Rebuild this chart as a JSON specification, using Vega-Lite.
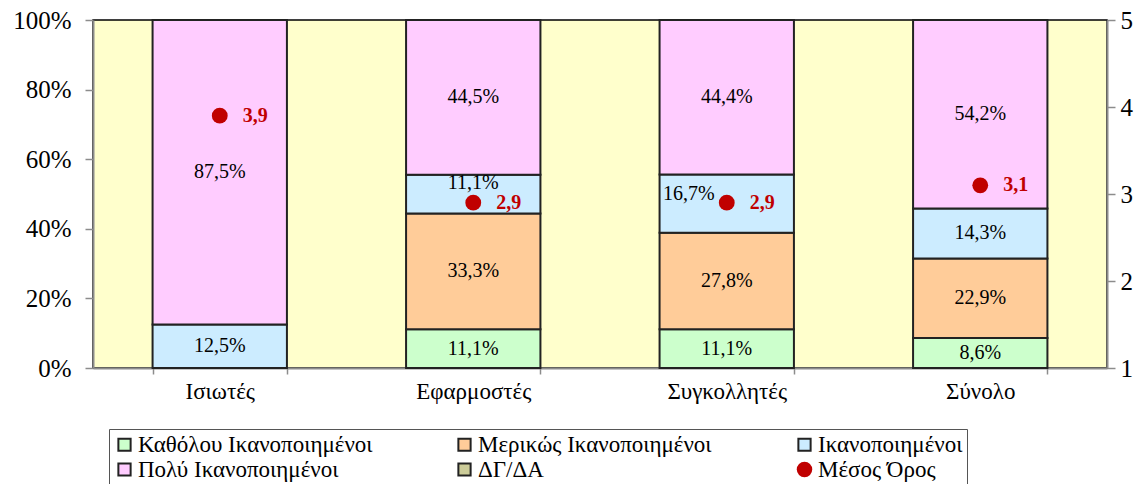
{
  "$schema": "https://vega.github.io/schema/vega-lite/v6.json",
  "width": 1014,
  "height": 348,
  "autosize": {"type": "none"},
  "padding": {"left": 93, "top": 20, "right": 37, "bottom": 116},
  "background": "white",
  "config": {
    "locale": {"number": {"decimal": ",", "thousands": ".", "grouping": [3], "currency": ["", " €"]}},
    "font": "Liberation Serif",
    "text": {"font": "Liberation Serif"},
    "view": {"fill": "#FFFFCC", "stroke": "#000000", "strokeWidth": 1.5},
    "axis": {"labelFont": "Liberation Serif", "labelColor": "#000000", "domainColor": "#8c8c8c", "domainWidth": 2, "tickColor": "#8c8c8c", "tickWidth": 1.5, "grid": false, "title": null},
    "legend": {"labelFont": "Liberation Serif"}
  },
  "datasets": {
    "shares": [
      {"cat": "Ισιωτές", "series": "Καθόλου Ικανοποιημένοι", "k": 1, "p": 0},
      {"cat": "Ισιωτές", "series": "Μερικώς Ικανοποιημένοι", "k": 2, "p": 0},
      {"cat": "Ισιωτές", "series": "Ικανοποιημένοι", "k": 3, "p": 0.125},
      {"cat": "Ισιωτές", "series": "Πολύ Ικανοποιημένοι", "k": 4, "p": 0.875},
      {"cat": "Ισιωτές", "series": "ΔΓ/ΔΑ", "k": 5, "p": 0},
      {"cat": "Εφαρμοστές", "series": "Καθόλου Ικανοποιημένοι", "k": 1, "p": 0.111},
      {"cat": "Εφαρμοστές", "series": "Μερικώς Ικανοποιημένοι", "k": 2, "p": 0.333},
      {"cat": "Εφαρμοστές", "series": "Ικανοποιημένοι", "k": 3, "p": 0.111},
      {"cat": "Εφαρμοστές", "series": "Πολύ Ικανοποιημένοι", "k": 4, "p": 0.445},
      {"cat": "Εφαρμοστές", "series": "ΔΓ/ΔΑ", "k": 5, "p": 0},
      {"cat": "Συγκολλητές", "series": "Καθόλου Ικανοποιημένοι", "k": 1, "p": 0.111},
      {"cat": "Συγκολλητές", "series": "Μερικώς Ικανοποιημένοι", "k": 2, "p": 0.278},
      {"cat": "Συγκολλητές", "series": "Ικανοποιημένοι", "k": 3, "p": 0.167},
      {"cat": "Συγκολλητές", "series": "Πολύ Ικανοποιημένοι", "k": 4, "p": 0.444},
      {"cat": "Συγκολλητές", "series": "ΔΓ/ΔΑ", "k": 5, "p": 0},
      {"cat": "Σύνολο", "series": "Καθόλου Ικανοποιημένοι", "k": 1, "p": 0.086},
      {"cat": "Σύνολο", "series": "Μερικώς Ικανοποιημένοι", "k": 2, "p": 0.229},
      {"cat": "Σύνολο", "series": "Ικανοποιημένοι", "k": 3, "p": 0.143},
      {"cat": "Σύνολο", "series": "Πολύ Ικανοποιημένοι", "k": 4, "p": 0.542},
      {"cat": "Σύνολο", "series": "ΔΓ/ΔΑ", "k": 5, "p": 0}
    ],
    "means": [
      {"cat": "Ισιωτές", "m": 3.9},
      {"cat": "Εφαρμοστές", "m": 2.9},
      {"cat": "Συγκολλητές", "m": 2.9},
      {"cat": "Σύνολο", "m": 3.1}
    ]
  },
  "layer": [
    {
      "data": {"name": "shares"},
      "transform": [
        {"filter": "datum.p > 0"},
        {"stack": "p", "groupby": ["cat"], "sort": [{"field": "k", "order": "ascending"}], "as": ["y0", "y1"], "offset": "normalize"},
        {"calculate": "(datum.y0 + datum.y1) / 2", "as": "ym"}
      ],
      "encoding": {
        "x": {
          "field": "cat", "type": "nominal",
          "sort": ["Ισιωτές", "Εφαρμοστές", "Συγκολλητές", "Σύνολο"],
          "scale": {"paddingInner": 0.47, "paddingOuter": 0.235},
          "axis": {"labelAngle": 0, "labelFontSize": 23, "labelPadding": 6, "tickBand": "extent", "tickSize": 6}
        }
      },
      "layer": [
        {
          "mark": {"type": "bar", "stroke": "#222222", "strokeWidth": 2},
          "encoding": {
            "y": {
              "field": "y0", "type": "quantitative",
              "scale": {"domain": [0, 1], "nice": false},
              "axis": {"format": ".0%", "values": [0, 0.2, 0.4, 0.6, 0.8, 1], "labelFontSize": 25, "tickSize": 8, "labelPadding": 14}
            },
            "y2": {"field": "y1"},
            "color": {
              "field": "series", "type": "nominal",
              "scale": {
                "domain": ["Καθόλου Ικανοποιημένοι", "Μερικώς Ικανοποιημένοι", "Ικανοποιημένοι", "Πολύ Ικανοποιημένοι", "ΔΓ/ΔΑ", "Μέσος Όρος"],
                "range": ["#CCFFCC", "#FFCC99", "#CCECFF", "#FFCCFF", "#CCCC99", "#C00000"]
              },
              "legend": {
                "title": null,
                "orient": "none",
                "legendX": 16,
                "legendY": 409,
                "direction": "horizontal",
                "columns": 3,
                "gridAlign": "all",
                "columnPadding": 80,
                "rowPadding": 1,
                "padding": 4,
                "strokeColor": "#555555",
                "labelFontSize": 23,
                "labelColor": "#000000",
                "labelLimit": 400,
                "labelOffset": 2,
                "symbolType": "square",
                "symbolSize": 150,
                "symbolStrokeColor": "#222222",
                "symbolStrokeWidth": 2,
                "symbolOpacity": 1,
                "encode": {
                  "symbols": {
                    "update": {
                      "shape": {"signal": "datum.value === 'Μέσος Όρος' ? 'circle' : 'square'"},
                      "strokeWidth": {"signal": "datum.value === 'Μέσος Όρος' ? 0 : 2"},
                      "size": {"signal": "datum.value === 'Μέσος Όρος' ? 240 : 150"}
                    }
                  }
                }
              }
            }
          }
        },
        {
          "transform": [{"filter": "!(datum.series === 'Ικανοποιημένοι' && (datum.cat === 'Εφαρμοστές' || datum.cat === 'Συγκολλητές'))"}],
          "mark": {"type": "text", "fontSize": 20, "color": "#000000", "baseline": "middle"},
          "encoding": {
            "y": {"field": "ym", "type": "quantitative"},
            "text": {"field": "p", "type": "quantitative", "format": ".1%"}
          }
        },
        {
          "transform": [{"filter": "datum.series === 'Ικανοποιημένοι' && datum.cat === 'Εφαρμοστές'"}],
          "mark": {"type": "text", "fontSize": 20, "color": "#000000", "baseline": "middle", "dy": -11},
          "encoding": {
            "y": {"field": "ym", "type": "quantitative"},
            "text": {"field": "p", "type": "quantitative", "format": ".1%"}
          }
        },
        {
          "transform": [{"filter": "datum.series === 'Ικανοποιημένοι' && datum.cat === 'Συγκολλητές'"}],
          "mark": {"type": "text", "fontSize": 20, "color": "#000000", "baseline": "middle", "dx": -38, "dy": -10},
          "encoding": {
            "y": {"field": "ym", "type": "quantitative"},
            "text": {"field": "p", "type": "quantitative", "format": ".1%"}
          }
        }
      ]
    },
    {
      "data": {"name": "means"},
      "encoding": {
        "x": {"field": "cat", "type": "nominal", "sort": ["Ισιωτές", "Εφαρμοστές", "Συγκολλητές", "Σύνολο"]},
        "y": {
          "field": "m", "type": "quantitative",
          "scale": {"domain": [1, 5], "nice": false, "zero": false},
          "axis": {"orient": "right", "values": [1, 2, 3, 4, 5], "labelFontSize": 25, "tickSize": 8, "labelPadding": 5}
        }
      },
      "layer": [
        {
          "mark": {"type": "circle", "size": 250, "opacity": 1},
          "encoding": {"color": {"datum": "Μέσος Όρος"}}
        },
        {
          "mark": {"type": "text", "align": "left", "baseline": "middle", "dx": 23, "fontSize": 20, "fontWeight": "bold", "color": "#C00000"},
          "encoding": {"text": {"field": "m", "type": "quantitative", "format": ".1f"}}
        }
      ]
    }
  ],
  "resolve": {"scale": {"y": "independent"}}
}
